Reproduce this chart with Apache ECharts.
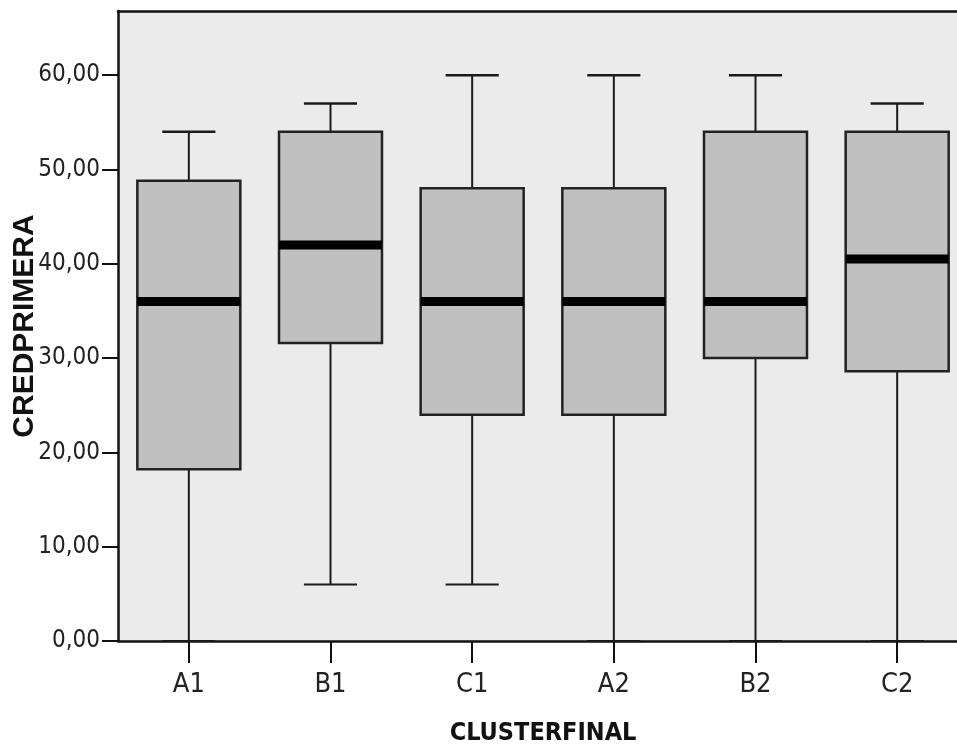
<!DOCTYPE html>
<html>
<head>
<meta charset="utf-8">
<script src="https://cdn.jsdelivr.net/npm/echarts@6/dist/echarts.min.js"></script>
<style>
html,body{margin:0;padding:0;background:#fff;}
#chart{width:957px;height:749px;}
</style>
</head>
<body>
<div id="chart"></div>
<script>
// ---- data ----
const categories = ['A1', 'B1', 'C1', 'A2', 'B2', 'C2'];
const whiskerLow  = [0, 6, 6, 0, 0, 0];
const quartile1   = [18.2, 31.6, 24, 24, 30, 28.6];
const medians     = [36, 42, 36, 36, 36, 40.5];
const quartile3   = [48.8, 54, 48, 48, 54, 54];
const whiskerHigh = [54, 57, 60, 60, 60, 57];
const yTickValues = [0, 10, 20, 30, 40, 50, 60];
const yTickLabels = ['0,00', '10,00', '20,00', '30,00', '40,00', '50,00', '60,00'];
const xAxisTitle = 'CLUSTERFINAL';
const yAxisTitle = 'CREDPRIMERA';

const boxData = categories.map((c, i) => [i, whiskerLow[i], quartile1[i], medians[i], quartile3[i], whiskerHigh[i]]);

const narrow = "'Liberation Sans Narrow', 'Arial Narrow', 'DejaVu Sans Condensed', sans-serif";
const chart = echarts.init(document.getElementById('chart'), null, {renderer: 'canvas'});

function renderBox(params, api) {
  const x = api.value(0);
  const pMin = api.coord([x, api.value(1)]);
  const pQ1 = api.coord([x, api.value(2)]);
  const pMed = api.coord([x, api.value(3)]);
  const pQ3 = api.coord([x, api.value(4)]);
  const pMax = api.coord([x, api.value(5)]);
  const band = api.size([1, 0])[0];
  const bw = band * 0.727;
  const cw = band * 0.375;
  const cx = pMed[0];
  const lineStyle = {stroke: '#1a1a1a', lineWidth: 2};
  return {
    type: 'group',
    children: [
      {type: 'line', shape: {x1: cx, y1: pQ1[1], x2: cx, y2: pMin[1]}, style: lineStyle},
      {type: 'line', shape: {x1: cx, y1: pQ3[1], x2: cx, y2: pMax[1]}, style: lineStyle},
      {type: 'line', shape: {x1: cx - cw / 2, y1: pMin[1], x2: cx + cw / 2, y2: pMin[1]}, style: lineStyle},
      {type: 'line', shape: {x1: cx - cw / 2, y1: pMax[1], x2: cx + cw / 2, y2: pMax[1]}, style: {stroke: '#1a1a1a', lineWidth: 2.5}},
      {type: 'rect', shape: {x: cx - bw / 2, y: pQ3[1], width: bw, height: pQ1[1] - pQ3[1]},
        style: {fill: '#c0c0c0', stroke: '#222', lineWidth: 2.5}},
      {type: 'rect', shape: {x: cx - bw / 2, y: pMed[1] - 4.5, width: bw, height: 9},
        style: {fill: '#000'}}
    ]
  };
}

const option = {
  backgroundColor: '#ffffff',
  animation: false,
  grid: {
    left: 118, top: 11, width: 850, bottom: 108,
    containLabel: false, outerBoundsMode: 'none',
    show: true, backgroundColor: '#ebebeb', borderWidth: 0
  },
  xAxis: [{
    type: 'category',
    data: categories,
    boundaryGap: true,
    axisLine: {show: true, lineStyle: {color: '#111', width: 2.5}},
    axisTick: {show: true, alignWithLabel: true, length: 22, lineStyle: {color: '#111', width: 2}},
    axisLabel: {color: '#222', fontSize: 27, fontFamily: narrow, margin: 30},
    name: xAxisTitle,
    nameLocation: 'middle',
    nameGap: 80,
    nameMoveOverlap: false,
    nameTextStyle: {color: '#111', fontSize: 25, fontWeight: 'bold', fontFamily: narrow},
    splitLine: {show: false}
  }, {
    type: 'category',
    data: categories,
    position: 'top',
    axisLine: {show: true, lineStyle: {color: '#111', width: 2.5}},
    axisTick: {show: false},
    axisLabel: {show: false},
    splitLine: {show: false}
  }],
  yAxis: {
    type: 'value',
    min: 0,
    max: 66.8,
    interval: 10,
    axisLine: {show: true, lineStyle: {color: '#111', width: 2.5}},
    axisTick: {show: true, length: 16, customValues: yTickValues, lineStyle: {color: '#111', width: 2}},
    axisLabel: {
      customValues: yTickValues,
      color: '#222', fontSize: 24, fontFamily: narrow, margin: 18,
      formatter: v => { const i = yTickValues.indexOf(Math.round(v)); return i >= 0 ? yTickLabels[i] : ''; }
    },
    splitLine: {show: false},
    name: yAxisTitle,
    nameLocation: 'middle',
    nameRotate: 90,
    nameGap: 78,
    nameMoveOverlap: false,
    nameTextStyle: {color: '#111', fontSize: 30, fontWeight: 'bold', fontFamily: "'Liberation Sans', Arial, sans-serif"}
  },
  series: [{
    type: 'custom',
    renderItem: renderBox,
    encode: {x: 0, y: [1, 2, 3, 4, 5]},
    data: boxData,
    clip: false,
    z: 5
  }]
};
chart.setOption(option);
</script>
</body>
</html>
